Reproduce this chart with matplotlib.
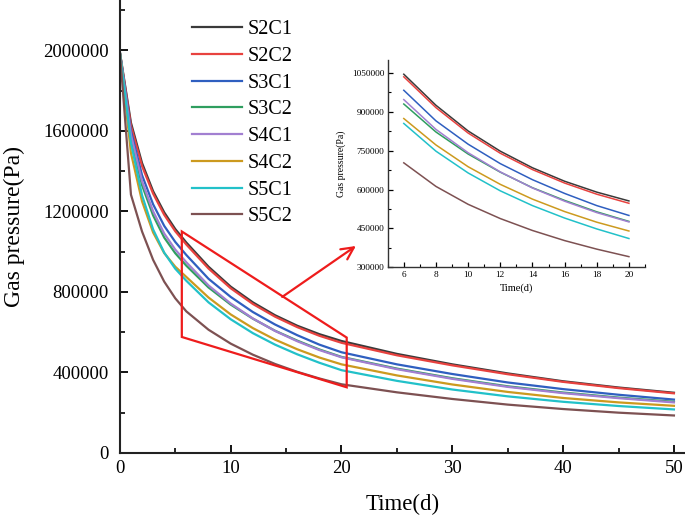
import numpy as np
import matplotlib.pyplot as plt
from matplotlib.ticker import MultipleLocator, FuncFormatter
from matplotlib.patches import Polygon

plt.rcParams['font.family'] = ['Liberation Serif', 'DejaVu Serif']

# time (d) at which the curves are read
time = [0, 1, 2, 3, 4, 5, 6, 8, 10, 12, 14, 16, 18, 20, 25, 30, 35, 40, 45, 50]

# gas pressure (Pa)
s2c1 = [1990000, 1640000, 1440000, 1300000, 1195000, 1112000, 1045000, 925000, 826000, 748000,
        684000, 632000, 590000, 556000, 492000, 440000, 395000, 356000, 325000, 299000]
s2c2 = [1990000, 1625000, 1425000, 1288000, 1183000, 1101000, 1035000, 916000, 818000, 740000,
        677000, 625000, 582000, 547000, 485000, 435000, 391000, 353000, 322000, 296000]
s3c1 = [1990000, 1600000, 1380000, 1235000, 1128000, 1048000, 983000, 865000, 775000, 700000,
        638000, 585000, 538000, 500000, 440000, 392000, 350000, 317000, 289000, 265000]
s3c2 = [1990000, 1560000, 1330000, 1180000, 1070000, 992000, 930000, 822000, 737000, 667000,
        607000, 558000, 514000, 477000, 419000, 371000, 331000, 300000, 275000, 254000]
s4c1 = [1990000, 1580000, 1350000, 1200000, 1090000, 1010000, 947000, 832000, 742000, 668000,
        606000, 555000, 511000, 475000, 416000, 368000, 328000, 297000, 272000, 251000]
s4c2 = [1990000, 1490000, 1250000, 1095000, 993000, 925000, 874000, 772000, 688000, 620000,
        563000, 515000, 474000, 440000, 385000, 340000, 303000, 273000, 251000, 234000]
s5c1 = [1990000, 1540000, 1280000, 1110000, 995000, 915000, 855000, 748000, 664000, 595000,
        538000, 490000, 448000, 411000, 358000, 315000, 281000, 254000, 233000, 216000]
s5c2 = [1990000, 1283000, 1100000, 959000, 851000, 768000, 703000, 612000, 543000, 488000,
        442000, 403000, 370000, 341000, 301000, 268000, 240000, 218000, 200000, 186000]

labels = ['S2C1', 'S2C2', 'S3C1', 'S3C2', 'S4C1', 'S4C2', 'S5C1', 'S5C2']
series = [s2c1, s2c2, s3c1, s3c2, s4c1, s4c2, s5c1, s5c2]
colors = ['#3a3a3a', '#e8423f', '#2f5fc0', '#2f9e5f', '#a27fd1', '#cc9a1f', '#22c1c9', '#7d5152']

t = np.array(time)

fig = plt.figure(figsize=(6.85, 5.2), dpi=100)
ax = fig.add_axes([0.175, 0.129, 0.825, 0.871])

for y, lab, c in zip(series, labels, colors):
    ax.plot(t, y, color=c, lw=1.6, label=lab)

ax.set_xlim(0, 51)
ax.set_ylim(0, 2250000)
ax.xaxis.set_major_locator(MultipleLocator(10))
ax.xaxis.set_minor_locator(MultipleLocator(5))
ax.yaxis.set_major_locator(MultipleLocator(400000))
ax.yaxis.set_minor_locator(MultipleLocator(200000))
ax.yaxis.set_major_formatter(FuncFormatter(lambda v, p: '%d' % v))
for s in ['top', 'right']:
    ax.spines[s].set_visible(False)
for s in ['left', 'bottom']:
    ax.spines[s].set_linewidth(1.5)
    ax.spines[s].set_color('#222222')
ax.tick_params(which='major', direction='in', length=6, width=1.3, labelsize=13.5)
ax.tick_params(which='minor', direction='in', length=3.5, width=1.2)
ax.tick_params(axis='y', which='major', pad=8)
ax.tick_params(axis='x', which='major', pad=5)
ax.set_xlabel('Time(d)', fontsize=16.5, labelpad=12)
ax.set_ylabel('Gas pressure(Pa)', fontsize=17, labelpad=13)

fig.legend(loc='upper left', bbox_to_anchor=(192 / 685, 1 - 20 / 520), frameon=False,
           fontsize=14.5, handlelength=2.5, handletextpad=0.25, labelspacing=0.38,
           borderpad=0, borderaxespad=0)

# red zoom box and arrow
box = Polygon([[5.59, 1100000], [5.59, 576000], [20.47, 326000], [20.47, 573000]],
              closed=True, fill=False, edgecolor='#ee1c1c', lw=1.6, zorder=5)
ax.add_patch(box)
ax.annotate('', xy=(21.3, 1028000), xytext=(14.65, 775000),
            arrowprops=dict(arrowstyle='->', color='#ee1c1c', lw=1.6,
                            mutation_scale=22, shrinkA=0, shrinkB=0), zorder=5)

# inset
ins = fig.add_axes([0.566, 0.486, 0.3756, 0.3987])
mask = (t >= 6) & (t <= 20)
for y, c in zip(series, colors):
    ins.plot(t[mask], np.array(y)[mask], color=c, lw=1.1)
ins.set_xlim(5, 21)
ins.set_ylim(300000, 1100000)
ins.xaxis.set_major_locator(MultipleLocator(2))
ins.xaxis.set_minor_locator(MultipleLocator(1))
ins.yaxis.set_major_locator(MultipleLocator(150000))
ins.yaxis.set_minor_locator(MultipleLocator(75000))
ins.yaxis.set_major_formatter(FuncFormatter(lambda v, p: '%d' % v))
for s in ['top', 'right']:
    ins.spines[s].set_visible(False)
for s in ['left', 'bottom']:
    ins.spines[s].set_linewidth(1.0)
    ins.spines[s].set_color('#333333')
ins.tick_params(which='major', direction='in', length=3.5, width=0.9, labelsize=6.7, pad=2.5)
ins.tick_params(which='minor', direction='in', length=2, width=0.8)
ins.set_xlabel('Time(d)', fontsize=7.5, labelpad=3)
ins.set_ylabel('Gas pressure(Pa)', fontsize=7, labelpad=4)

fig.savefig('out.png', dpi=100)
